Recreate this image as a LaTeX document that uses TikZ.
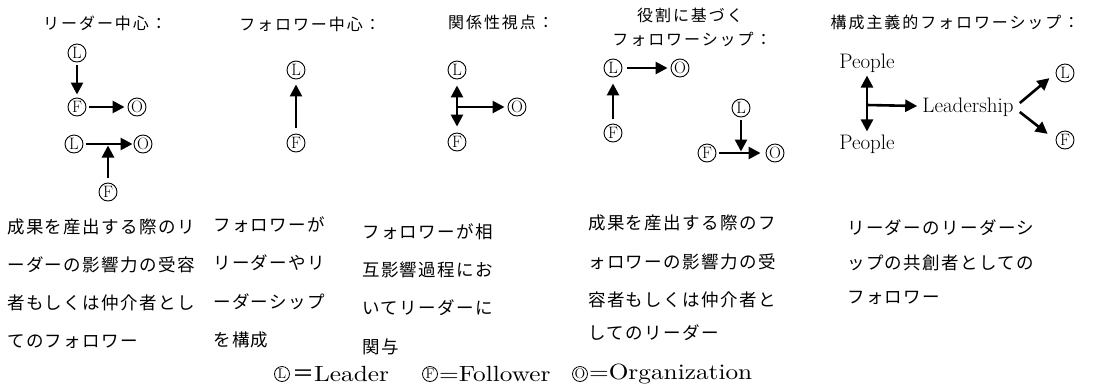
\documentclass[tikz,border=0pt]{standalone}
\usepackage{fontspec}
\usetikzlibrary{arrows.meta}
\newfontfamily\jpt{Noto Sans CJK JP}[LetterSpace=12]
\newfontfamily\jpb{Noto Sans CJK JP}[LetterSpace=8]
\newfontfamily\jpn{Noto Sans CJK JP}
\newfontfamily\lmsp{lmroman10-regular.otf}[FakeStretch=1.15]
\tikzset{
  arr/.style={line width=2.6pt, -{Triangle[length=12pt,width=12pt]}},
  circ/.style={circle, draw, line width=0.9pt, minimum size=18pt, inner sep=0pt, font=\fontsize{16.5}{16.5}\selectfont},
  lcirc/.style={circle, draw, line width=0.8pt, minimum size=15pt, inner sep=0pt, font=\fontsize{14}{14}\selectfont},
  ttl/.style={inner sep=0pt, font=\fontsize{16}{16}\jpt},
  body/.style={anchor=west, inner sep=0pt, font=\fontsize{17.5}{17.5}\jpb},
  word/.style={inner sep=0pt, font=\fontsize{21}{21}\selectfont},
  lg/.style={anchor=west, inner sep=0pt, font=\fontsize{22}{22}\lmsp},
}
\begin{document}
\begin{tikzpicture}[x=1pt,y=-1pt]
\useasboundingbox (0,0) rectangle (1096,384);
% ---- column 1
\node[ttl] (t1) at (105,23) {リーダー中心：};
\node[circ] (c1L) at (77,53) {L};
\node[circ] (c1F) at (77,107) {F};
\node[circ] (c1O) at (137,107) {O};
\draw[arr, shorten <=3pt, shorten >=3pt] (c1L) -- (c1F);
\draw[arr, shorten <=3pt, shorten >=3pt] (c1F) -- (c1O);
\node[circ] (c1L2) at (74,144) {L};
\node[circ] (c1O2) at (143,144) {O};
\node[circ] (c1F2) at (108,192) {F};
\coordinate (j1) at (108,144);
\draw[arr, shorten <=3pt, shorten >=1pt] (c1L2) -- (c1O2);
\draw[arr, shorten <=5pt, shorten >=1.5pt] (c1F2) -- (j1);
% ---- column 2
\node[ttl] (t2) at (310,24) {フォロワー中心：};
\node[circ] (c2L) at (296,70) {L};
\node[circ] (c2F) at (296,143) {F};
\draw[arr, shorten <=6pt, shorten >=5pt] (c2F) -- (c2L);
% ---- column 3
\node[ttl] (t3) at (501,22) {関係性視点：};
\node[circ] (c3L) at (457,70) {L};
\node[circ] (c3F) at (457,142) {F};
\node[circ] (c3O) at (517,107) {O};
\coordinate (j3) at (457,107);
\draw[arr, shorten >=6pt] (j3) -- (c3L);
\draw[arr, shorten >=6pt] (j3) -- (c3F);
\draw[arr, shorten >=3pt] (j3) -- (c3O);
% ---- column 4
\node[ttl] (t4a) at (690,15) {役割に基づく};
\node[ttl] (t4b) at (692,39) {フォロワーシップ：};
\node[circ] (c4L) at (613,68) {L};
\node[circ] (c4O) at (680,68) {O};
\node[circ] (c4F) at (613,133) {F};
\draw[arr, shorten <=5pt, shorten >=3pt] (c4L) -- (c4O);
\draw[arr, shorten <=5pt, shorten >=6pt] (c4F) -- (c4L);
\node[circ] (c4L2) at (741,108) {L};
\node[circ] (c4F2) at (707,153) {F};
\node[circ] (c4O2) at (775,153) {O};
\coordinate (j4) at (741,153);
\draw[arr, shorten <=3pt, shorten >=5pt] (c4F2) -- (c4O2);
\draw[arr, shorten <=3pt, shorten >=1.5pt] (c4L2) -- (j4);
% ---- column 5
\node[ttl] (t5) at (955,22) {構成主義的フォロワーシップ：};
\node[word] (p1) at (867,63) {People};
\node[word] (p2) at (867,144) {People};
\node[word] (lead) at (968,107) {Leadership};
\node[circ] (c5L) at (1065,73) {L};
\node[circ] (c5F) at (1065,140) {F};
\coordinate (j5) at (867,105);
\draw[arr, shorten >=3pt] (j5) -- (p1);
\draw[arr, shorten >=3pt] (j5) -- (p2);
\draw[arr, shorten >=5pt] (j5) -- (lead);
\draw[arr, shorten >=8pt] ([shift={(6,-4)}]lead.east) -- (c5L.west);
\draw[arr, shorten >=10pt] ([shift={(6,5)}]lead.east) -- (c5F.west);
% ---- body texts
\node[body] (b11) at (7,227) {成果を産出する際のリ};
\node[body] (b12) at (7,265) {ーダーの影響力の受容};
\node[body] (b13) at (7,303) {者もしくは仲介者とし};
\node[body] (b14) at (7,342) {てのフォロワー};
\node[body] (b21) at (213,225) {フォロワーが};
\node[body] (b22) at (213,263) {リーダーやリ};
\node[body] (b23) at (213,302) {ーダーシップ};
\node[body] (b24) at (213,340) {を構成};
\node[body] (b31) at (362,232) {フォロワーが相};
\node[body] (b32) at (362,270) {互影響過程にお};
\node[body] (b33) at (362,308) {いてリーダーに};
\node[body] (b34) at (362,347) {関与};
\node[body] (b41) at (588,223) {成果を産出する際のフ};
\node[body] (b42) at (588,262) {ォロワーの影響力の受};
\node[body] (b43) at (588,300) {容者もしくは仲介者と};
\node[body] (b44) at (588,333) {してのリーダー};
\node[body] (b51) at (847,228) {リーダーのリーダーシ};
\node[body] (b52) at (847,263) {ップの共創者としての};
\node[body] (b53) at (847,298) {フォロワー};
% ---- legend
\node[lcirc] (k1) at (282,374) {L};
\node[lg] (g1) at ([xshift=2pt]k1.east) {{\jpn ＝}Leader};
\node[lcirc] (k2) at (430,374) {F};
\node[lg] (g2) at ([xshift=1pt]k2.east) {=Follower};
\node[lcirc] (k3) at (580,374) {O};
\node[lg] (g3) at ([xshift=1pt]k3.east) {=Organization};
\end{tikzpicture}
\end{document}
